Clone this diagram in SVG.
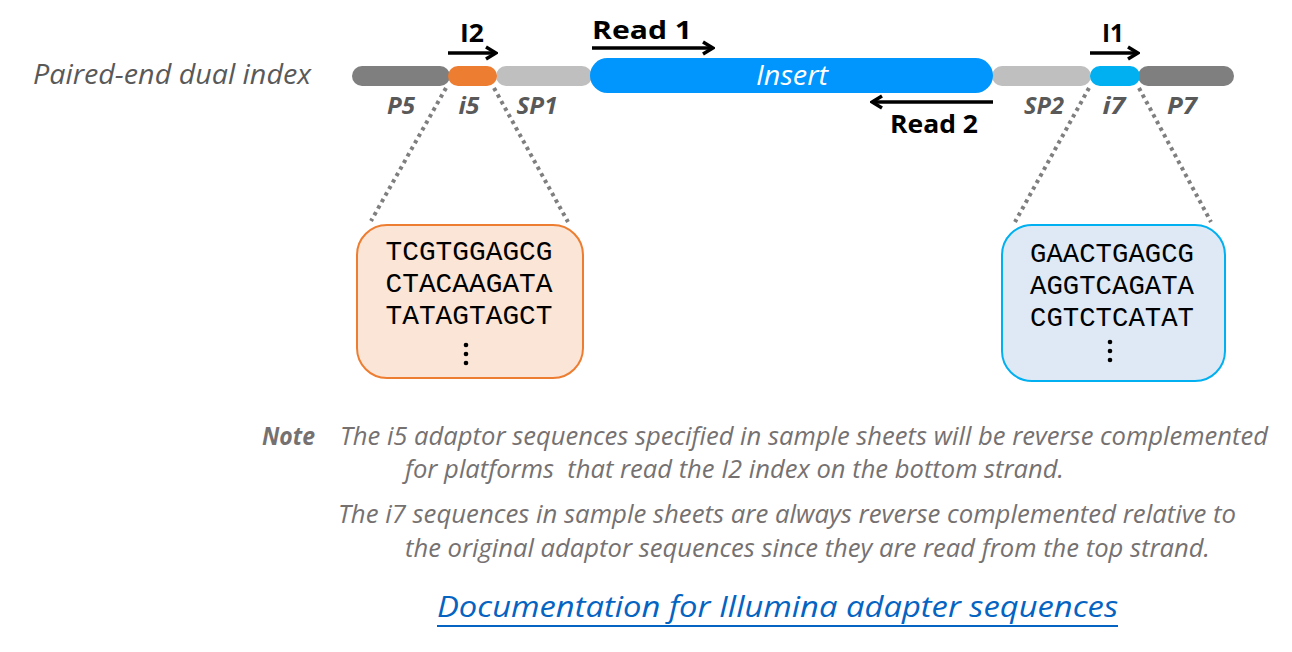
<svg xmlns="http://www.w3.org/2000/svg" width="1292" height="652" viewBox="0 0 1292 652">
  <style>
    .seg { stroke: none; }
    .dark { fill: #7f7f7f; }
    .light { fill: #bfbfbf; }
    .lbl { font-family: "Open Sans", "Liberation Sans", sans-serif; font-style: italic; font-weight: bold; font-size: 24px; fill: #595959; text-anchor: middle; }
    .rd { font-family: "Open Sans", "Liberation Sans", sans-serif; font-weight: bold; font-size: 25px; fill: #000; }
    .arr { stroke: #000; stroke-width: 3.5; fill: none; marker-end: url(#head); }
    .dot { stroke: #7f7f7f; stroke-width: 4; stroke-dasharray: 3.5 4; fill: none; }
    .seq { font-family: "Liberation Mono", "Courier New", monospace; font-size: 27px; fill: #000; text-anchor: middle; }
    .note { font-family: "Open Sans", "Liberation Sans", sans-serif; font-style: italic; font-size: 25px; fill: #767171; }
  </style>
  <defs>
    <marker id="head" viewBox="0 0 14 16" refX="12" refY="8" markerWidth="14" markerHeight="16" markerUnits="userSpaceOnUse" orient="auto">
      <path d="M2,2 L12,8 L2,14" fill="none" stroke="#000" stroke-width="3.5"/>
    </marker>
  </defs>

  <text x="33" y="84" font-family="'Open Sans', 'Liberation Sans', sans-serif" font-style="italic" font-size="26.5" fill="#595959" textLength="278" lengthAdjust="spacingAndGlyphs">Paired-end dual index</text>

  <!-- adapter / insert construct -->
  <g id="P5"><rect class="seg dark" x="352" y="66" width="98" height="20" rx="10"/><text class="lbl" x="401" y="114" textLength="28" lengthAdjust="spacingAndGlyphs">P5</text></g>
  <g id="SP1"><rect class="seg light" x="496" y="66" width="96" height="20" rx="10"/><text class="lbl" x="537" y="114" textLength="41" lengthAdjust="spacingAndGlyphs">SP1</text></g>
  <g id="i5"><rect class="seg" fill="#ed7d31" x="448" y="66" width="49" height="20" rx="10"/><text class="lbl" x="469" y="114" textLength="21" lengthAdjust="spacingAndGlyphs">i5</text></g>
  <g id="SP2"><rect class="seg light" x="992" y="66" width="99" height="20" rx="10"/><text class="lbl" x="1044" y="114" textLength="40" lengthAdjust="spacingAndGlyphs">SP2</text></g>
  <g id="P7"><rect class="seg dark" x="1138" y="66" width="96" height="20" rx="10"/><text class="lbl" x="1182" y="114" textLength="30" lengthAdjust="spacingAndGlyphs">P7</text></g>
  <g id="i7"><rect class="seg" fill="#00b0f0" x="1090" y="66" width="50" height="20" rx="10"/><text class="lbl" x="1114" y="114" textLength="23" lengthAdjust="spacingAndGlyphs">i7</text></g>
  <g id="insert">
    <rect class="seg" fill="#0096fd" x="590" y="58" width="403" height="35" rx="17.5"/>
    <text x="792" y="85" font-family="'Open Sans', 'Liberation Sans', sans-serif" font-style="italic" font-size="27" fill="#fff" text-anchor="middle" textLength="72" lengthAdjust="spacingAndGlyphs">Insert</text>
  </g>

  <!-- read / index labels -->
  <g id="read-labels">
    <text class="rd" x="460" y="42" textLength="24" lengthAdjust="spacingAndGlyphs">I2</text>
    <text class="rd" x="592" y="39" textLength="100" lengthAdjust="spacingAndGlyphs">Read 1</text>
    <text class="rd" x="890" y="133" textLength="88" lengthAdjust="spacingAndGlyphs">Read 2</text>
    <text class="rd" x="1102" y="42" textLength="22" lengthAdjust="spacingAndGlyphs">I1</text>
  </g>

  <!-- connectors -->
  <g id="connectors">
    <line class="arr" x1="448" y1="53" x2="496" y2="53"/>
    <line class="arr" x1="592" y1="48" x2="713" y2="48"/>
    <line class="arr" x1="993" y1="102" x2="872" y2="102"/>
    <line class="arr" x1="1090" y1="53" x2="1138" y2="53"/>
    <line class="dot" x1="446" y1="88" x2="371" y2="221"/>
    <line class="dot" x1="494" y1="88" x2="568" y2="222"/>
    <line class="dot" x1="1089" y1="88" x2="1015" y2="222"/>
    <line class="dot" x1="1139" y1="88" x2="1211" y2="222"/>
  </g>

  <!-- index sequence lists -->
  <g id="i5-seqs">
    <rect x="357" y="225" width="226" height="153" rx="30" fill="#fbe5d6" stroke="#ed7d31" stroke-width="2"/>
    <text class="seq" x="469" y="260" textLength="167" lengthAdjust="spacingAndGlyphs">TCGTGGAGCG</text>
    <text class="seq" x="469" y="292" textLength="167" lengthAdjust="spacingAndGlyphs">CTACAAGATA</text>
    <text class="seq" x="469" y="324" textLength="167" lengthAdjust="spacingAndGlyphs">TATAGTAGCT</text>
    <circle cx="466" cy="345" r="2.3"/><circle cx="466" cy="354" r="2.3"/><circle cx="466" cy="363" r="2.3"/>
  </g>
  <g id="i7-seqs">
    <rect x="1002" y="225" width="223" height="156" rx="30" fill="#dee9f5" stroke="#00b0f0" stroke-width="2"/>
    <text class="seq" x="1112" y="262" textLength="164" lengthAdjust="spacingAndGlyphs">GAACTGAGCG</text>
    <text class="seq" x="1112" y="294" textLength="164" lengthAdjust="spacingAndGlyphs">AGGTCAGATA</text>
    <text class="seq" x="1112" y="326" textLength="164" lengthAdjust="spacingAndGlyphs">CGTCTCATAT</text>
    <circle cx="1110" cy="342" r="2.3"/><circle cx="1110" cy="351" r="2.3"/><circle cx="1110" cy="360" r="2.3"/>
  </g>

  <!-- notes -->
  <g id="note">
    <text class="note" x="262" y="445" font-weight="bold" textLength="53" lengthAdjust="spacingAndGlyphs">Note</text>
    <text class="note" x="340" y="445" textLength="928" lengthAdjust="spacingAndGlyphs">The i5 adaptor sequences specified in sample sheets will be reverse complemented</text>
    <text class="note" x="405" y="478" textLength="659" lengthAdjust="spacingAndGlyphs" xml:space="preserve">for platforms  that read the I2 index on the bottom strand.</text>
    <text class="note" x="338" y="523" textLength="898" lengthAdjust="spacingAndGlyphs">The i7 sequences in sample sheets are always reverse complemented relative to</text>
    <text class="note" x="405" y="557" textLength="805" lengthAdjust="spacingAndGlyphs">the original adaptor sequences since they are read from the top strand.</text>
  </g>

  <g id="doc-link">
    <text x="437" y="617" font-family="'Open Sans', 'Liberation Sans', sans-serif" font-style="italic" font-size="29" fill="#0563c1" textLength="681" lengthAdjust="spacingAndGlyphs">Documentation for Illumina adapter sequences</text>
    <rect x="437" y="625" width="681" height="2" fill="#0563c1"/>
  </g>
</svg>
